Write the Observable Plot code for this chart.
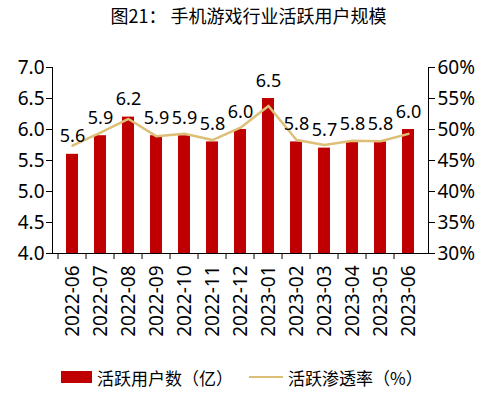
<!DOCTYPE html>
<html>
<head>
<meta charset="utf-8">
<script src="https://cdn.jsdelivr.net/npm/d3@7"></script>
<script src="https://cdn.jsdelivr.net/npm/@observablehq/plot@0.6"></script>
<style>
  body { margin: 0; background: #fff; font-family: "Noto Sans", "Noto Sans CJK SC", sans-serif; color: #000; }
  #wrap { width: 489px; height: 394px; position: relative; }
  #title { height: 32px; line-height: 30px; text-align: center; font-size: 18px; font-family: "Noto Sans CJK SC", sans-serif; padding-left: 8px; }
  #legend { position: absolute; top: 364px; left: 0; width: 489px; height: 26px; display: flex; align-items: center; font-size: 17px; font-family: "Noto Sans CJK SC", sans-serif; }
  .sw { display: inline-block; }
</style>
</head>
<body>
<div id="wrap">
  <div id="title">图21： 手机游戏行业活跃用户规模</div>
  <div id="chart"></div>
  <div id="legend">
    <span class="sw" style="margin-left:61px;width:31px;height:12px;background:#C00000"></span>
    <span style="margin-left:5px">活跃用户数（亿）</span>
    <span class="sw" style="margin-left:16px;width:34px;height:2.5px;background:#DDBF78"></span>
    <span style="margin-left:5px">活跃渗透率（%）</span>
  </div>
</div>
<script>
const months = ["2022-06","2022-07","2022-08","2022-09","2022-10","2022-11","2022-12","2023-01","2023-02","2023-03","2023-04","2023-05","2023-06"];
const users = [5.6, 5.9, 6.2, 5.9, 5.9, 5.8, 6.0, 6.5, 5.8, 5.7, 5.8, 5.8, 6.0];
const rates = [47.4, 49.5, 51.7, 48.9, 49.3, 48.3, 50.3, 53.8, 48.3, 47.5, 48.2, 48.1, 49.3];
const leftTicks = [4.0, 4.5, 5.0, 5.5, 6.0, 6.5, 7.0];

const data = months.map((m, i) => ({month: m, users: users[i], rate: rates[i]}));
const toLeft = p => 4 + (p - 30) / 10; // 30%..60% -> 4..7
const fromLeft = v => Math.round((v - 4) * 10 + 30);

const W = 489, H = 318, ML = 52, MR = 61, MT = 35, MB = 97;
const step = (W - ML - MR) / months.length;
const font = "Noto Sans, Noto Sans CJK SC, sans-serif";

const chart = Plot.plot({
  width: W, height: H,
  marginLeft: ML, marginRight: MR, marginTop: MT, marginBottom: MB,
  style: {fontSize: "19px", fontFamily: font, color: "#000", background: "#fff"},
  x: {type: "band", domain: months, paddingInner: 0.58, paddingOuter: 0.29, axis: null},
  y: {domain: [4, 7], axis: null},
  marks: [
    Plot.barY(data, {x: "month", y1: 4, y2: "users", fill: "#C00000"}),
    Plot.line(data, {x: "month", y: d => toLeft(d.rate), stroke: "#DDBF78", strokeWidth: 2.5}),
    Plot.text(data, {x: "month", y: "users", text: d => d.users.toFixed(1), lineAnchor: "bottom", dy: -12, fontSize: 18, fill: "#000"}),
    Plot.ruleY([4], {stroke: "#000", strokeWidth: 1}),
    Plot.frame({anchor: "left", stroke: "#000"}),
    Plot.frame({anchor: "right", stroke: "#000"}),
    Plot.axisY({anchor: "left", ticks: leftTicks, tickFormat: d => d.toFixed(1), tickSize: 6, tickPadding: 2, fontSize: 19, label: null}),
    Plot.axisY({anchor: "right", ticks: leftTicks, tickFormat: d => fromLeft(d) + "%", tickSize: 6, tickPadding: 3, fontSize: 19, label: null}),
    Plot.axisX({tickSize: 6, tickFormat: () => "", dx: -step / 2, label: null}),
    Plot.axisX({tickSize: 0, tickPadding: 12, tickRotate: -90, fontSize: 19, label: null})
  ]
});
document.getElementById("chart").appendChild(chart);
</script>
</body>
</html>
